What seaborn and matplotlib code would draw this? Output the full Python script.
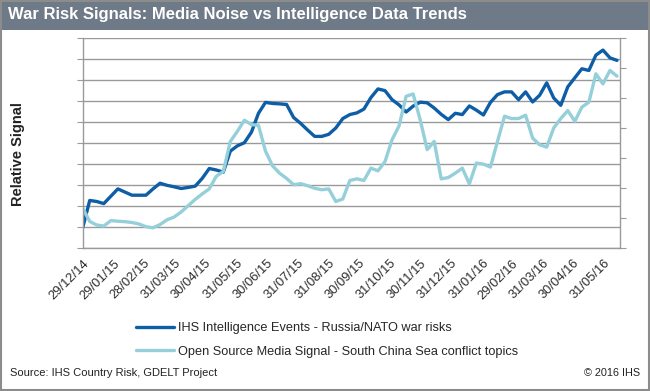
import matplotlib
matplotlib.use("Agg")
import matplotlib.pyplot as plt
import matplotlib.dates as mdates
from matplotlib.patches import Rectangle
import pandas as pd
import seaborn as sns

# weekly series (relative units, gridline = 1)
week_start = "2014-12-29"
intel_events = [0.95, 2.25, 2.2, 2.1, 2.45, 2.8, 2.65, 2.5, 2.5, 2.5,
                2.8, 3.07, 2.97, 2.9, 2.82, 2.87, 2.93, 3.3, 3.77, 3.7,
                3.6, 4.6, 4.85, 5.0, 5.5, 6.4, 6.92, 6.87, 6.85, 6.82,
                6.2, 5.92, 5.6, 5.3, 5.3, 5.4, 5.7, 6.15, 6.34, 6.42,
                6.6, 7.15, 7.56, 7.48, 7.05, 6.8, 6.46, 6.74, 6.93, 6.9,
                6.65, 6.35, 6.1, 6.4, 6.34, 6.75, 6.55, 6.32, 6.92, 7.29,
                7.42, 7.42, 7.05, 7.42, 6.94, 7.26, 7.85, 7.13, 6.78, 7.66,
                8.09, 8.52, 8.44, 9.17, 9.41, 9.04, 8.92]
media_signal = [1.88, 1.25, 1.08, 1.03, 1.29, 1.26, 1.24, 1.2, 1.13, 1.0,
                0.95, 1.1, 1.33, 1.46, 1.7, 2.0, 2.3, 2.56, 2.8, 3.4,
                3.63, 5.06, 5.54, 6.07, 5.86, 5.83, 4.6, 3.9, 3.55, 3.3,
                3.0, 3.05, 2.95, 2.83, 2.76, 2.8, 2.2, 2.32, 3.2, 3.28,
                3.2, 3.79, 3.66, 4.1, 5.14, 5.8, 7.21, 7.32, 6.1, 4.67,
                5.06, 3.28, 3.34, 3.55, 3.79, 3.04, 4.03, 3.98, 3.84, 5.06,
                6.26, 6.15, 6.15, 6.31, 5.22, 4.9, 4.79, 5.7, 6.15, 6.53,
                6.02, 6.69, 6.93, 8.28, 7.8, 8.44, 8.17]
tick_dates = ["2014-12-29", "2015-01-29", "2015-02-28", "2015-03-31", "2015-04-30",
              "2015-05-31", "2015-06-30", "2015-07-31", "2015-08-31", "2015-09-30",
              "2015-10-31", "2015-11-30", "2015-12-31", "2016-01-31", "2016-02-29",
              "2016-03-31", "2016-04-30", "2016-05-31"]
series_names = ["IHS Intelligence Events - Russia/NATO war risks",
                "Open Source Media Signal - South China Sea conflict topics"]

DARK = "#0d5ea6"
LIGHT = "#95d0da"
GRID = "#9a9a9a"
BANNER = "#6e7a87"

df = pd.DataFrame({
    "date": pd.date_range(week_start, periods=len(intel_events), freq="7D"),
    "intel": intel_events,
    "media": media_signal,
})

sns.set_style("white")
plt.rcParams["font.family"] = ["Liberation Sans", "DejaVu Sans"]

fig = plt.figure(figsize=(6.5, 3.91), dpi=100)
ax = fig.add_axes([82.7 / 650, 1 - 247.7 / 391, (620 - 82.7) / 650, 210 / 391])

sns.lineplot(data=df, x="date", y="intel", ax=ax, color=DARK, linewidth=2.4,
             label=series_names[0], legend=False)
sns.lineplot(data=df, x="date", y="media", ax=ax, color=LIGHT, linewidth=2.4,
             label=series_names[1], legend=False)

ax.set_ylim(0, 10)
ax.set_yticks(range(0, 11))
ax.set_yticklabels([])
ax.yaxis.grid(True, color=GRID, linewidth=1.0)
ax.set_axisbelow(True)
ax.set_xlim(pd.Timestamp("2014-12-29"), pd.Timestamp("2016-06-16"))
ax.set_xticks(pd.to_datetime(tick_dates))
ax.xaxis.set_major_formatter(mdates.DateFormatter("%d/%m/%y"))
ax.tick_params(axis="x", length=4, color=GRID, labelsize=9.3, labelcolor="#2a2a2a",
               pad=3, rotation=45)
for lbl in ax.get_xticklabels():
    lbl.set_ha("right")
    lbl.set_rotation_mode("anchor")
ax.tick_params(axis="y", length=4, color=GRID, left=True)
ax.set_xlabel("")
ax.set_ylabel("")
for side in ["left", "bottom", "right"]:
    ax.spines[side].set_color(GRID)
    ax.spines[side].set_linewidth(1.0)
ax.spines["top"].set_visible(False)

# secondary axis on the right, ticks only
ax2 = ax.twinx()
ax2.set_ylim(0, 7)
ax2.set_yticks(range(0, 8))
ax2.set_yticklabels([])
ax2.tick_params(axis="y", length=4, color=GRID, right=True)
for side in ax2.spines:
    ax2.spines[side].set_visible(False)

fig.text(18 / 650, 1 - 154 / 391, "Relative Signal", rotation=90, ha="center",
         va="center", fontsize=10.5, fontweight="bold", color="#222222")

handles, labels = ax.get_legend_handles_labels()
fig.legend(handles, labels, loc="center left",
           bbox_to_anchor=(131 / 650, 1 - 340 / 391), frameon=False,
           fontsize=9.2, handlelength=3.0, handletextpad=0.3, labelspacing=0.9,
           borderaxespad=0)

# banner, frame and footer
fig.patches.append(Rectangle((0, 1 - 30 / 391), 1, 30 / 391, transform=fig.transFigure,
                             facecolor=BANNER, edgecolor="none", zorder=0))
fig.patches.append(Rectangle((0.001, 0.002), 0.997, 0.995, transform=fig.transFigure,
                             fill=False, edgecolor="#8c8c8c", linewidth=1.5, zorder=0))
fig.text(8 / 650, 1 - 15 / 391, "War Risk Signals: Media Noise vs Intelligence Data Trends",
         color="white", fontsize=12, fontweight="bold", va="center", ha="left")
fig.text(10 / 650, 1 - 373 / 391, "Source: IHS Country Risk, GDELT Project",
         fontsize=8, color="#222222", va="center", ha="left")
fig.text(640 / 650, 1 - 373 / 391, "\u00a9 2016 IHS", fontsize=7.8, color="#222222",
         va="center", ha="right")

fig.savefig("out.png", dpi=100)
